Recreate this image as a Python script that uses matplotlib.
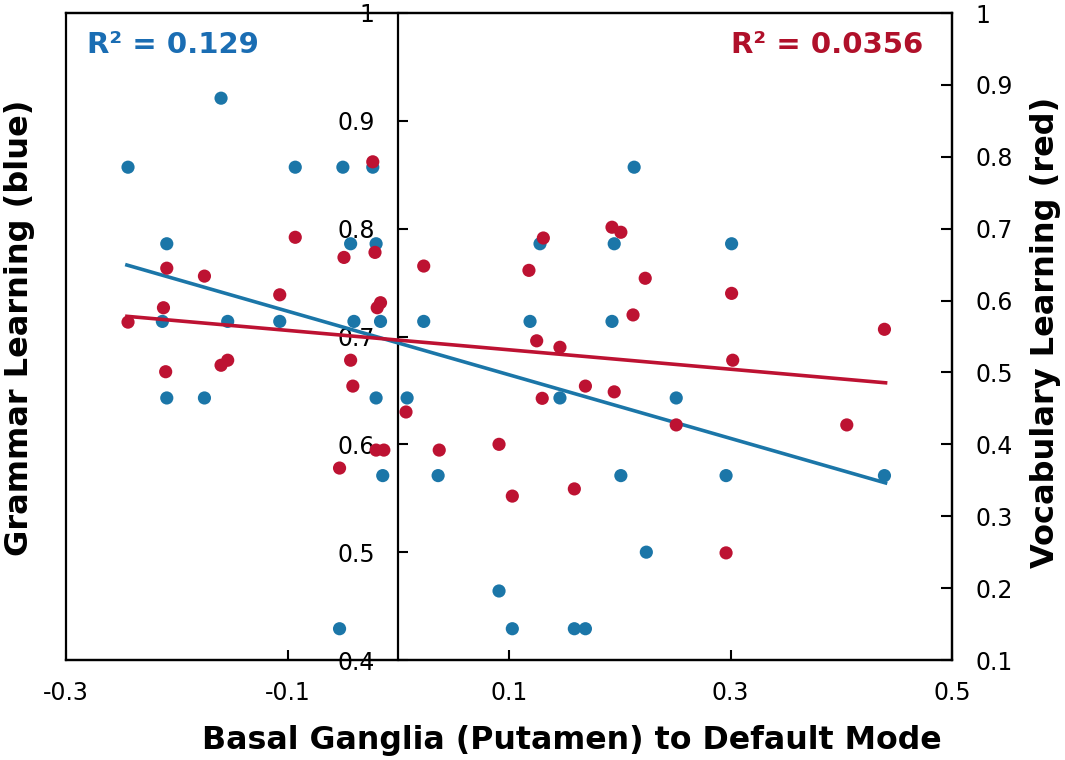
import matplotlib
matplotlib.use("Agg")
import matplotlib.pyplot as plt
import numpy as np

plt.rcParams['font.family'] = ['DejaVu Sans']

# ---- data ----
grammar_x = [-0.244, -0.160, -0.209, -0.093, -0.050, -0.023, -0.043, -0.020,
             -0.213, -0.154, -0.107, -0.040, -0.016, 0.023, 0.119, 0.128,
             0.213, 0.195, 0.193, 0.301, -0.209, -0.175, -0.020, 0.008,
             -0.014, -0.053, 0.146, 0.251, 0.036, 0.201, 0.091, 0.103,
             0.159, 0.169, 0.224, 0.296, 0.439]
grammar_y = [0.857, 0.921, 0.786, 0.857, 0.857, 0.857, 0.786, 0.786,
             0.714, 0.714, 0.714, 0.714, 0.714, 0.714, 0.714, 0.786,
             0.857, 0.786, 0.714, 0.786, 0.643, 0.643, 0.643, 0.643,
             0.571, 0.429, 0.643, 0.643, 0.571, 0.571, 0.464, 0.429,
             0.429, 0.429, 0.500, 0.571, 0.571]

vocab_x = [-0.023, -0.093, -0.049, -0.021, -0.209, -0.175, -0.107, -0.212,
           -0.244, -0.019, -0.016, 0.023, 0.118, 0.131, 0.193, 0.201,
           0.223, 0.212, 0.301, 0.439, -0.210, -0.160, -0.154, -0.043,
           -0.041, 0.007, -0.020, -0.013, -0.053, 0.125, 0.146, 0.130,
           0.169, 0.195, 0.251, 0.037, 0.091, 0.103, 0.159, 0.302,
           0.405, 0.296]
vocab_y = [0.793, 0.688, 0.660, 0.667, 0.645, 0.634, 0.608, 0.590,
           0.570, 0.590, 0.597, 0.648, 0.642, 0.687, 0.702, 0.695,
           0.631, 0.580, 0.610, 0.560, 0.501, 0.510, 0.517, 0.517,
           0.481, 0.445, 0.392, 0.392, 0.367, 0.544, 0.535, 0.464,
           0.481, 0.473, 0.427, 0.392, 0.400, 0.328, 0.338, 0.517,
           0.427, 0.249]

# fitted lines
fit_x = [-0.245, 0.44]
grammar_fit = (-0.295, 0.694)   # slope, intercept
vocab_fit = (-0.135, 0.545)

grammar_r2 = "R² = 0.129"
vocab_r2 = "R² = 0.0356"

x_ticks = [-0.3, -0.1, 0.1, 0.3, 0.5]
x_ticklabels = ["-0.3", "-0.1", "0.1", "0.3", "0.5"]
left_ticks = [0.4, 0.5, 0.6, 0.7, 0.8, 0.9, 1.0]
left_ticklabels = ["0.4", "0.5", "0.6", "0.7", "0.8", "0.9", "1"]
right_ticks = [0.1, 0.2, 0.3, 0.4, 0.5, 0.6, 0.7, 0.8, 0.9, 1.0]
right_ticklabels = ["0.1", "0.2", "0.3", "0.4", "0.5", "0.6", "0.7", "0.8", "0.9", "1"]

blue = '#1B76A8'
red = '#BD1232'
blue_text = '#1A6DB3'
red_text = '#B0102A'

fig = plt.figure(figsize=(10.65, 7.6), dpi=100)
ax = fig.add_axes([66/1065, 1-660/760, (952-66)/1065, (660-13)/760])
ax2 = ax.twinx()

ax.set_xlim(-0.3, 0.5)
ax.set_ylim(0.4, 1.0)
ax2.set_ylim(0.1, 1.0)

# blue series
ax.scatter(grammar_x, grammar_y, s=90, color=blue, edgecolors='none', zorder=3)
fx = np.array(fit_x)
ax.plot(fx, grammar_fit[0]*fx + grammar_fit[1], color=blue, lw=2.6, zorder=4)

# red series
ax2.scatter(vocab_x, vocab_y, s=90, color=red, edgecolors='none', zorder=3)
ax2.plot(fx, vocab_fit[0]*fx + vocab_fit[1], color=red, lw=2.6, zorder=4)

# spines
for sp in ax.spines.values():
    sp.set_linewidth(1.6)
for sp in ax2.spines.values():
    sp.set_linewidth(1.6)
ax.spines['left'].set_position(('data', 0))

ax.set_xticks(x_ticks)
ax.set_xticklabels(x_ticklabels)
ax.set_yticks(left_ticks)
ax.set_yticklabels(left_ticklabels)
ax2.set_yticks(right_ticks)
ax2.set_yticklabels(right_ticklabels)

ax.tick_params(axis='x', direction='in', length=7, width=1.5, labelsize=17, pad=15)
ax.tick_params(axis='y', direction='in', length=7, width=1.5, labelsize=17, pad=17)
ax2.tick_params(axis='y', direction='in', length=8, width=1.5, labelsize=17, pad=17)

ax.set_xlabel("Basal Ganglia (Putamen) to Default Mode", fontsize=22.8, fontweight='bold')
ax.xaxis.set_label_coords((572-66)/886, (660-740)/647)
ax.xaxis.label.set(va='center', ha='center')
ax.set_ylabel("Grammar Learning (blue)", fontsize=23, fontweight='bold')
ax.yaxis.set_label_coords((20-66)/886, (660-328)/647)
ax.yaxis.label.set(va='center', ha='center')
ax2.set_ylabel("Vocabulary Learning (red)", fontsize=23, fontweight='bold')
ax2.yaxis.set_label_coords((1045-66)/886, (660-332)/647)
ax2.yaxis.label.set(va='center', ha='center')

ax.text(0.024, 0.951, grammar_r2, transform=ax.transAxes, color=blue_text,
        fontsize=21, fontweight='bold', ha='left', va='center')
ax.text(0.967, 0.951, vocab_r2, transform=ax.transAxes, color=red_text,
        fontsize=21, fontweight='bold', ha='right', va='center')

fig.savefig("out.png", dpi=100)
